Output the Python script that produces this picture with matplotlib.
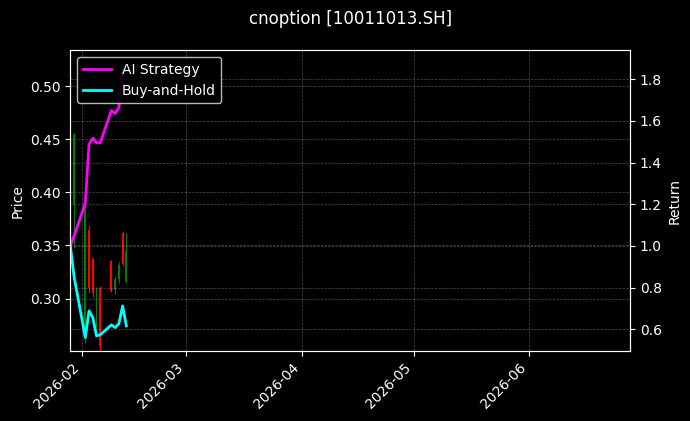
import numpy as np
import pandas as pd
import matplotlib
matplotlib.use("Agg")
import matplotlib.pyplot as plt
import matplotlib.dates as mdates

# equity curve dates (first one is the starting point)
dates = pd.to_datetime(['2026-01-29', '2026-01-30', '2026-02-02', '2026-02-03',
                        '2026-02-04', '2026-02-05', '2026-02-06', '2026-02-09',
                        '2026-02-10', '2026-02-11', '2026-02-12', '2026-02-13'])

ai_return = [1.0, 1.048, 1.206, 1.488, 1.517, 1.495, 1.495, 1.65, 1.635, 1.665, 1.86, np.nan]
bh_return = [1.0, 0.851, 0.560, 0.688, 0.656, 0.568, 0.573, 0.621, 0.608, 0.626, 0.712, 0.616]

# daily candles
candle_dates = dates[1:]
opens = [0.389, 0.265, 0.365, 0.337, 0.280, 0.310, 0.335, 0.308, 0.318, 0.362, 0.316]
highs = [0.456, 0.392, 0.369, 0.339, 0.311, 0.312, 0.336, 0.321, 0.334, 0.364, 0.362]
lows = [0.348, 0.258, 0.305, 0.301, 0.273, 0.240, 0.306, 0.304, 0.315, 0.331, 0.315]
closes = [0.455, 0.390, 0.310, 0.305, 0.309, 0.255, 0.307, 0.318, 0.332, 0.333, 0.345]

title = 'cnoption [10011013.SH]'

plt.style.use('dark_background')
fig = plt.figure(figsize=(6.9, 4.21), dpi=100)
ax = fig.add_axes([0.102, 0.166, 0.811, 0.715])
ax.set_facecolor('black')

# Candlesticks
for d, o, h, l, c in zip(candle_dates, opens, highs, lows, closes):
    col = 'green' if c >= o else 'red'
    ax.vlines(d, l, h, color=col, linewidth=0.8)
    ax.bar(d, abs(c - o), bottom=min(o, c), width=0.5, color=col, edgecolor=col, linewidth=0)

ax.set_ylim(0.2505, 0.534)
ax.set_ylabel('Price')
ax.grid(True, linestyle='--', linewidth=0.5, alpha=0.3)

# Returns on twin axis
ax2 = ax.twinx()
ax2.plot(dates, ai_return, color='magenta', linewidth=2, label='AI Strategy')
ax2.plot(dates, bh_return, color='cyan', linewidth=2, label='Buy-and-Hold')
ax2.set_ylim(0.495, 1.94)
ax2.set_ylabel('Return')
ax2.grid(True, linestyle='--', linewidth=0.5, alpha=0.3)
ax2.legend(loc='upper left', facecolor='black', edgecolor='0.8', framealpha=0.9)

ax.set_xlim(pd.Timestamp('2026-01-29'), pd.Timestamp('2026-06-28'))
ax.xaxis.set_major_locator(mdates.MonthLocator())
ax.xaxis.set_major_formatter(mdates.DateFormatter('%Y-%m'))
plt.setp(ax.get_xticklabels(), rotation=45, ha='right')

ax.set_title(title, fontsize=12, pad=19)

fig.savefig('out.png', dpi=100, facecolor='black')
